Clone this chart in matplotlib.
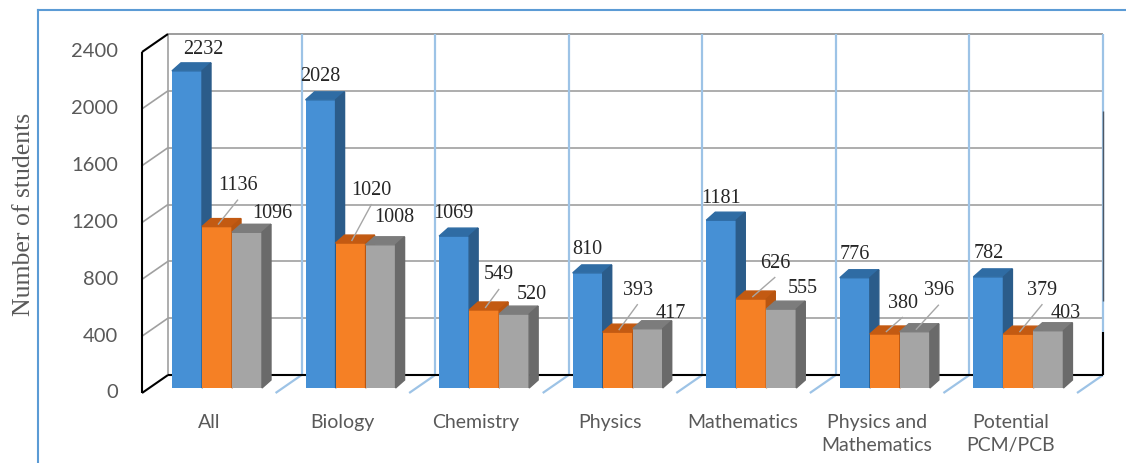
import matplotlib.pyplot as plt
from matplotlib.patches import Polygon

categories = ['All', 'Biology', 'Chemistry', 'Physics', 'Mathematics',
              'Physics and\nMathematics', 'Potential\nPCM/PCB']
series1 = [2232, 2028, 1069, 810, 1181, 776, 782]
series2 = [1136, 1020, 549, 393, 626, 380, 379]
series3 = [1096, 1008, 520, 417, 555, 396, 403]
yticks = [0, 400, 800, 1200, 1600, 2000, 2400]

# face colours: front, top, side
styles = [('#4690D5', '#2F6CA4', '#2B5C8A'),
          ('#F58025', '#C35A12', '#B85510'),
          ('#A5A5A5', '#7C7C7C', '#6A6A6A')]

# label offsets in pixels from the top of each bar (right, up)
label_off = [
    [(16, 21), (0, 23), (-1, 23), (0, 23), (0, 22), (0, 23), (0, 23)],
    [(21, 41), (21, 53), (15, 35), (20, 42), (24, 36), (18, 31), (24, 44)],
    [(25, 19), (14, 27), (18, 20), (23, 15), (21, 21), (24, 41), (17, 17)],
]
leaders = [[False] * 7, [True] * 7,
           [False, False, False, False, False, True, False]]

W, H = 1126, 463
fig = plt.figure(figsize=(W / 100, H / 100), dpi=100)
ax = fig.add_axes([150 / W, (H - 388) / H, 935 / W, 341 / H])
ax.set_xlim(0, 7)
ax.set_ylim(0, 2400)
ax.axis('off')

sx = 7 / 935.0     # data per pixel, x
sy = 2400 / 341.0  # data per pixel, y
FRONT = (-8, -5)
BACK = (18, 13)
DEPTH = (9, 8)


def pt(x, y, off=(0, 0)):
    return x + off[0] * sx, y + off[1] * sy


def line(p0, p1, **kw):
    ax.plot([p0[0], p1[0]], [p0[1], p1[1]], clip_on=False,
            solid_capstyle='butt', **kw)


grid_gray = '#A0A0A0'
grid_blue = '#9DC3E6'

# back wall and side wall grid
for v in yticks[1:-1]:
    line(pt(0, v, BACK), pt(7, v, BACK), color=grid_gray, lw=1.2, zorder=1)
    line(pt(0, v, FRONT), pt(0, v, BACK), color=grid_gray, lw=1.2, zorder=1)
line(pt(0, 2400, BACK), pt(7, 2400, BACK), color='#8C8C8C', lw=1.2, zorder=1)
line(pt(0, 0, BACK), pt(0, 2400, BACK), color=grid_gray, lw=1.2, zorder=1)
for k in range(1, 8):
    line(pt(k, 0, BACK), pt(k, 2400, BACK), color=grid_blue, lw=1.6, zorder=1)
    line(pt(k, 0, BACK), pt(k, 0, FRONT), color=grid_blue, lw=1.6, zorder=1)
line(pt(7, 520, BACK), pt(7, 1860, BACK), color='#4D5866', lw=1.0, zorder=1)
line(pt(7, 0, BACK), pt(7, 300, BACK), color='black', lw=1.5, zorder=1)

# axis frame
line(pt(0, 0, BACK), pt(7, 0, BACK), color='black', lw=1.5, zorder=2)
line(pt(0, 0, FRONT), pt(0, 2400, FRONT), color='black', lw=1.5, zorder=2)
line(pt(0, 0, FRONT), pt(0, 0, BACK), color='black', lw=1.5, zorder=2)
line(pt(0, 2400, FRONT), pt(0, 2400, BACK), color='black', lw=1.5, zorder=2)

for v in yticks:
    x, y = pt(0, v, (FRONT[0] - 24, FRONT[1]))
    ax.text(x, y, str(v), ha='right', va='center', fontsize=14.5,
            family='Lato', color='#595959')

# bars
gap, bw = 22 * sx, 30 * sx
ddx, ddy = DEPTH[0] * sx, DEPTH[1] * sy
z = 3
for i in range(len(categories)):
    for s, vals in enumerate([series1, series2, series3]):
        v = vals[i]
        front, top, side = styles[s]
        x0 = i + gap + s * bw
        ax.bar(x0, v, width=bw, align='edge', color=front, zorder=z,
               clip_on=False)
        ax.add_patch(Polygon([(x0, v), (x0 + bw, v), (x0 + bw + ddx, v + ddy),
                              (x0 + ddx, v + ddy)], closed=True, color=top,
                             zorder=z, clip_on=False))
        ax.add_patch(Polygon([(x0 + bw, 0), (x0 + bw, v),
                              (x0 + bw + ddx, v + ddy), (x0 + bw + ddx, ddy)],
                             closed=True, color=side, zorder=z, clip_on=False))
        z += 1

        cx = x0 + bw / 2
        lx, ly = pt(cx, v, label_off[s][i])
        ax.text(lx, ly, str(v), ha='center', va='center', fontsize=14.5,
                family='Liberation Serif', color='#262626', zorder=50)
        if leaders[s][i]:
            line(pt(lx, ly, (0, -14)), pt(cx, v, (1, 2)), color='#A6A6A6',
                 lw=1.0, zorder=40)

# category labels
for i, name in enumerate(categories):
    x, y = pt(i + 0.5, 0, (FRONT[0], FRONT[1] - 21))
    ax.text(x, y, name, ha='center', va='top', fontsize=14, family='Lato',
            color='#595959', linespacing=1.45)

fig.text(24 / W, 1 - 214 / H, 'Number of students', rotation=90,
         ha='center', va='center', fontsize=18.5, family='Liberation Serif',
         color='#595959')

# chart border
fig.add_artist(plt.Line2D([38 / W, 1], [1 - 10 / H, 1 - 10 / H],
                          color='#5B9BD5', lw=1.5, transform=fig.transFigure))
fig.add_artist(plt.Line2D([38 / W, 38 / W], [0, 1 - 10 / H],
                          color='#5B9BD5', lw=1.5, transform=fig.transFigure))

fig.savefig('out.png', dpi=100)
